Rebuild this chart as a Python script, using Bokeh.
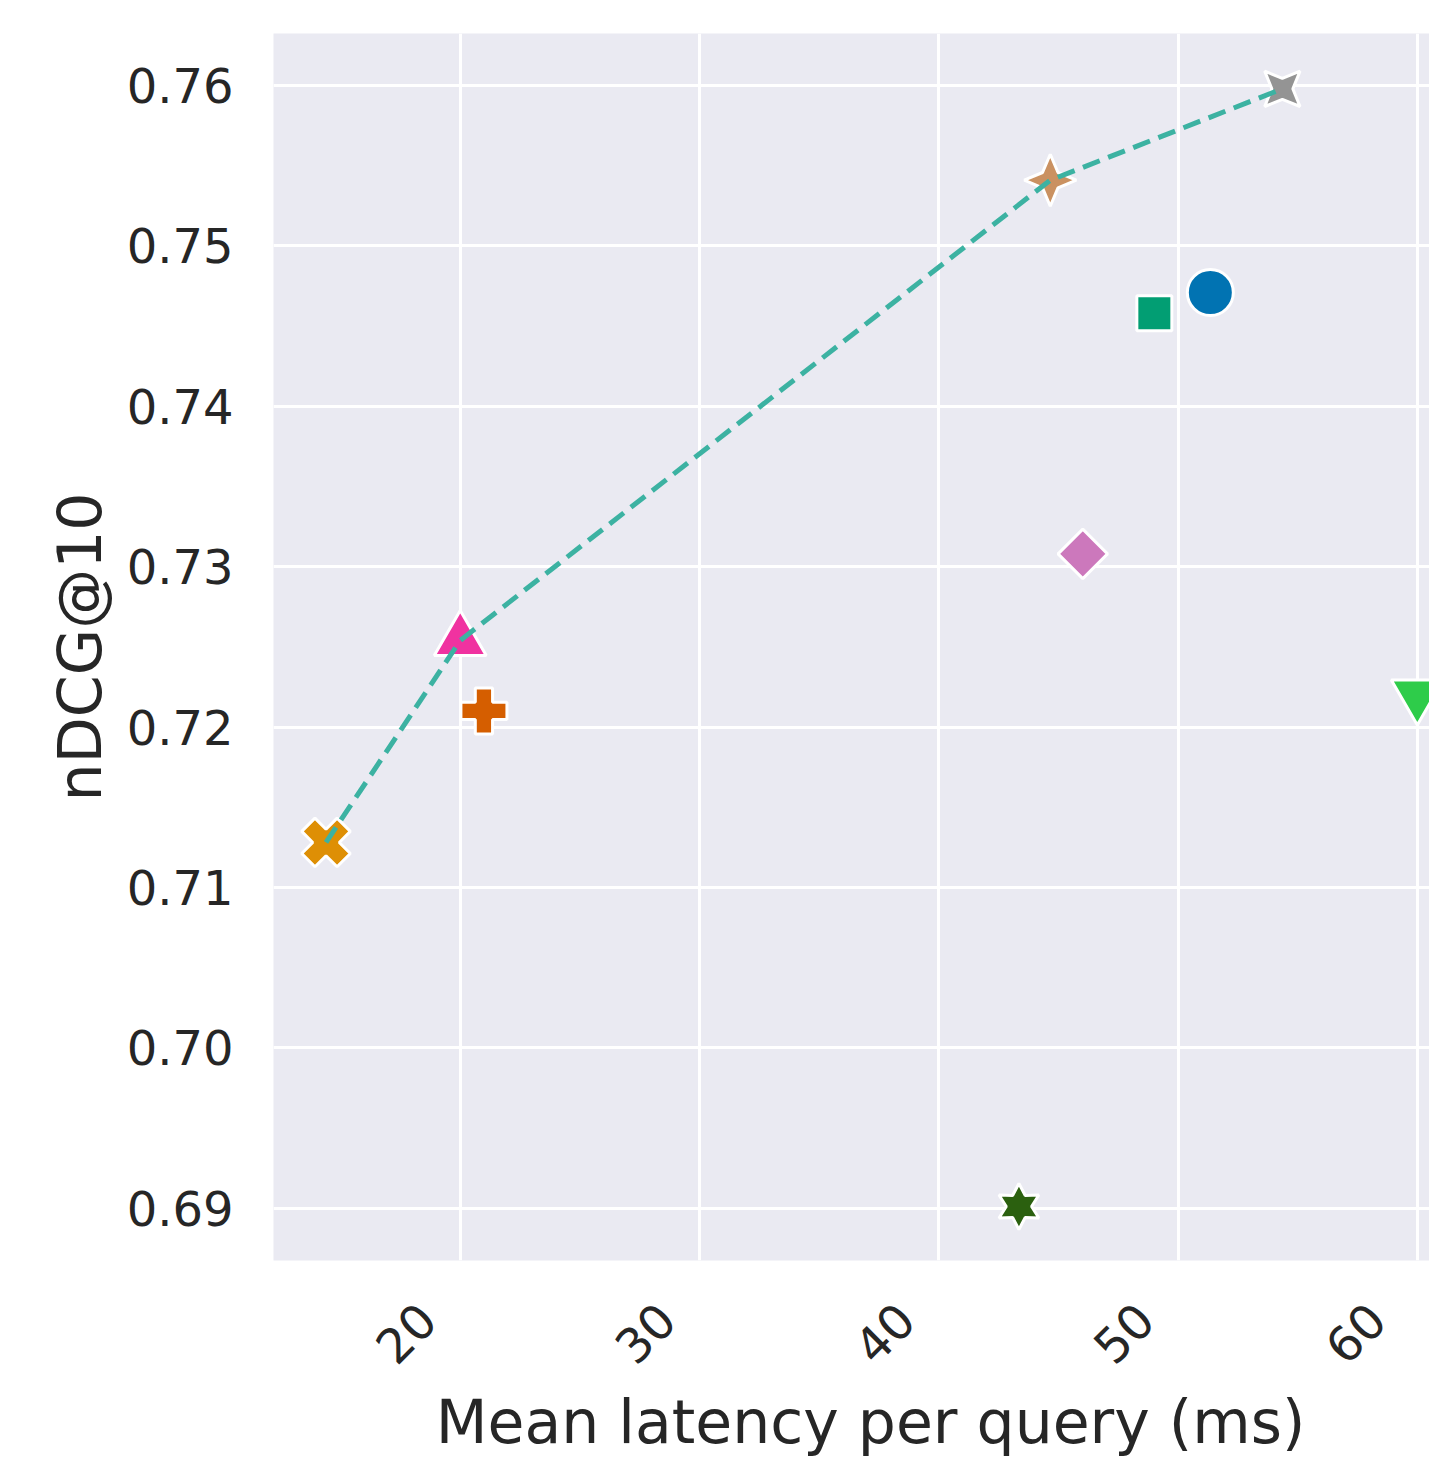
import math
from bokeh.plotting import figure
from bokeh.models import ColumnDataSource, FixedTicker, Range1d, PrintfTickFormatter
from bokeh.embed import file_html
from bokeh.resources import INLINE

# ---------------- data ----------------
latency = [51.35, 14.39, 46.02, 20.99, 49.01, 44.66, 20.00, 54.36, 60.00, 43.35]
ndcg = [0.7471, 0.7128, 0.7308, 0.7210, 0.7458, 0.7541, 0.7254, 0.7598, 0.7220, 0.6901]
x_ticks = [20, 30, 40, 50, 60]
y_ticks = [0.69, 0.70, 0.71, 0.72, 0.73, 0.74, 0.75, 0.76]
x_title = "Mean latency per query (ms)"
y_title = "nDCG@10"

# ---------------- styles ----------------
marker_kind = ["circle", "X", "diamond", "plus", "square", "star4", "triangle", "star4r", "inverted_triangle", "star6"]
colors = ["#0173b2", "#de8f05", "#cc78bc", "#d55e00", "#029e73", "#ca9161", "#f032a0", "#949494", "#2ecc4a", "#2b600f"]
sizes = [46, 50, 35, 46, 35, 26, 52, 25, 52, 23]
LINE_COLOR = "#3cb2a2"
TEXT = "#262626"
FONT = "DejaVu Sans"
TICK_FS = "48px"
TITLE_FS = "60px"
NB = "\u00a0"

X_RANGE = (12.195, 60.51)
Y_RANGE = (0.68673, 0.76325)
W, H = 1429, 1460
ML, MT, MR, MB = 273, 33, 0, 200
FW, FH = W - ML - MR, H - MT - MB
SX = FW / (X_RANGE[1] - X_RANGE[0])
SY = FH / (Y_RANGE[1] - Y_RANGE[0])

p = figure(width=W, height=H, x_range=Range1d(*X_RANGE), y_range=Range1d(*Y_RANGE),
           output_backend="svg", toolbar_location=None,
           min_border_left=ML, min_border_top=MT, min_border_right=MR, min_border_bottom=MB)
p.background_fill_color = "#eaeaf2"
p.border_fill_color = "white"
p.outline_line_color = None
p.xaxis.ticker = FixedTicker(ticks=x_ticks)
p.yaxis.ticker = FixedTicker(ticks=y_ticks)
p.xgrid.ticker = FixedTicker(ticks=x_ticks)
p.ygrid.ticker = FixedTicker(ticks=y_ticks)
p.grid.grid_line_color = "white"
p.grid.grid_line_width = 3

for ax in (p.xaxis, p.yaxis):
    ax.axis_line_color = None
    ax.major_tick_line_color = None
    ax.minor_tick_line_color = None
    ax.major_tick_out = 0
    ax.major_tick_in = 0
    ax.major_label_text_font = FONT
    ax.major_label_text_font_size = TICK_FS
    ax.major_label_text_color = TEXT
    ax.axis_label_text_font = FONT
    ax.axis_label_text_font_size = TITLE_FS
    ax.axis_label_text_color = TEXT
    ax.axis_label_text_font_style = "normal"

p.yaxis.formatter = PrintfTickFormatter(format="%.2f")
p.yaxis.major_label_standoff = 40
p.yaxis.axis_label = y_title
p.yaxis.axis_label_standoff = 9

p.xaxis.major_label_orientation = math.pi / 4
p.xaxis.major_label_overrides = {float(t): str(t) + NB * 3 for t in x_ticks}
p.xaxis.major_label_standoff = 19
p.xaxis.axis_label = NB + NB + x_title
p.xaxis.axis_label_standoff = -11

# ---------------- markers ----------------
bokeh_marker = {"circle": ("circle", 0), "X": ("plus", math.pi / 4), "diamond": ("square", math.pi / 4),
                "plus": ("plus", 0), "square": ("square", 0), "triangle": ("triangle", 0),
                "inverted_triangle": ("inverted_triangle", 0)}
sx_, sy_, sm, sc, ss, sa = [], [], [], [], [], []
star_xs, star_ys, star_c = [], [], []


def star_poly(xc, yc, n, R, rot_deg, inner):
    xs, ys = [], []
    for k in range(2 * n):
        th = math.radians(90 + rot_deg + k * 180.0 / n)
        rr = R if k % 2 == 0 else R * inner
        xs.append(xc + rr * math.cos(th) / SX)
        ys.append(yc + rr * math.sin(th) / SY)
    return xs, ys


for x, y, m, c, s in zip(latency, ndcg, marker_kind, colors, sizes):
    if m in bokeh_marker:
        mk, ang = bokeh_marker[m]
        sx_.append(x); sy_.append(y); sm.append(mk); sc.append(c); ss.append(s); sa.append(ang)
    else:
        n, rot = {"star4": (4, 0), "star4r": (4, 45), "star6": (6, 0)}[m]
        xs, ys = star_poly(x, y, n, s, rot, 0.42 if n == 4 else 0.55)
        star_xs.append(xs); star_ys.append(ys); star_c.append(c)

src = ColumnDataSource(dict(x=sx_, y=sy_, marker=sm, color=sc, size=ss, angle=sa))
p.scatter(x="x", y="y", marker="marker", size="size", angle="angle", fill_color="color",
          line_color="white", line_width=3, source=src)
p.patches(xs="xs", ys="ys", fill_color="c", line_color="white", line_width=3,
          source=ColumnDataSource(dict(xs=star_xs, ys=star_ys, c=star_c)))

# ---------------- Pareto frontier (dashed) ----------------
order = sorted(range(len(latency)), key=lambda i: latency[i])
fx, fy, best = [], [], -1.0
for i in order:
    if ndcg[i] > best:
        best = ndcg[i]
        fx.append(latency[i]); fy.append(ndcg[i])
p.line(fx, fy, line_color=LINE_COLOR, line_width=5, line_dash="18 9")

open("out.html", "w").write(file_html(p, INLINE))
